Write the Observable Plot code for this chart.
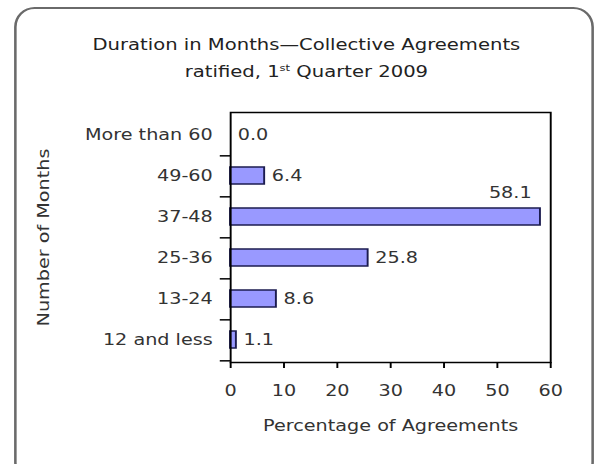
<!DOCTYPE html>
<html><head><meta charset="utf-8">
<script src="https://cdn.jsdelivr.net/npm/d3@7"></script>
<script src="https://cdn.jsdelivr.net/npm/@observablehq/plot@0.6"></script>
<style>
html,body{margin:0;padding:0;background:#fff;overflow:hidden;width:600px;height:464px;}
#wrap{position:relative;width:468.75px;height:464px;transform:scaleX(1.28);transform-origin:0 0;font-family:"DejaVu Sans",Verdana,sans-serif;}
#box{position:absolute;left:10.9px;top:7px;width:453px;height:475px;border:2px solid #6a6a6a;border-radius:16px/20px;box-sizing:border-box;}
#title{position:absolute;left:0;top:32px;width:100%;text-align:center;font-size:15.3px;line-height:27px;color:#222;padding-left:10px;box-sizing:border-box;}
#title sup{font-size:9px;line-height:0;vertical-align:6px;}
#chart{position:absolute;left:0;top:95px;}
</style></head><body>
<div id="wrap"><div id="box"></div><div id="title">Duration in Months—Collective Agreements<br>ratified, 1<sup>st</sup> Quarter 2009</div><div id="chart"></div></div>
<script>
const categories = ["More than 60", "49-60", "37-48", "25-36", "13-24", "12 and less"];
const values = [0.0, 6.4, 58.1, 25.8, 8.6, 1.1];
const xTicks = [0, 10, 20, 30, 40, 50, 60];
const xLabel = "Percentage of Agreements";
const yLabel = "Number of Months";

const data = categories.map((c, i) => ({cat: c, v: values[i]}));
const W = 468.75, H = 369, mTop = 17, mBottom = 102;
const step = (H - mTop - mBottom) / categories.length;
const fmt = d => d.v.toFixed(1);
const S = 1.28;

const plot = Plot.plot({
  width: W, height: H,
  marginTop: mTop, marginBottom: mBottom, marginLeft: 179.7, marginRight: 39,
  style: {fontFamily: "'DejaVu Sans', Verdana, sans-serif", fontSize: "15px", color: "#333", background: "transparent", overflow: "visible"},
  x: {domain: [0, 60]},
  y: {domain: categories, paddingInner: 0.58, paddingOuter: 0.29},
  marks: [
    Plot.barX(data, {x: "v", y: "cat", fill: "#9999ff", stroke: "#1c1c50", strokeWidth: 1.5}),
    Plot.frame({stroke: "#000", strokeWidth: 1.5}),
    Plot.axisX({ticks: xTicks, tickSize: 6, tickPadding: 17, stroke: "#000", strokeWidth: 1.5, fontSize: 15,
      label: xLabel, labelAnchor: "center", labelOffset: 68, labelArrow: "none"}),
    Plot.axisY({tickSize: 0, tickPadding: 14, fontSize: 15, label: yLabel, labelAnchor: "center", labelOffset: 150, labelArrow: "none"}),
    Plot.axisY({tickSize: 8, tickFormat: () => "", dy: step / 2, label: null, stroke: "#000", strokeWidth: 1.5}),
    Plot.text(data.filter(d => d.v < 50), {x: "v", y: "cat", text: fmt, textAnchor: "start", dx: 5.5, fill: "#333", fontSize: 15}),
    Plot.text(data.filter(d => d.v >= 50), {x: "v", y: "cat", text: fmt, textAnchor: "end", dx: -7, dy: -24, fill: "#333", fontSize: 15})
  ]
});
document.getElementById("chart").appendChild(plot);
// undo the horizontal stretch on the rotated y label so it reads like the reference
plot.querySelectorAll('g[aria-label="y-axis label"] text').forEach(t => {
  const tr = t.getAttribute("transform") || "";
  t.setAttribute("transform", tr + ` scale(${S}, ${1 / S})`);
});
</script>
</body></html>
